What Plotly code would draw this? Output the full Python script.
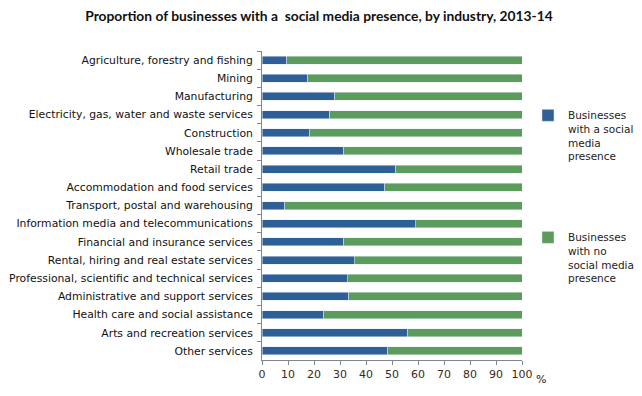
#Proportion of businesses with a social media presence, by industry
import plotly.graph_objects as go

#categories, top to bottom
industries = ["Agriculture, forestry and fishing", "Mining", "Manufacturing",
              "Electricity, gas, water and waste services", "Construction",
              "Wholesale trade", "Retail trade", "Accommodation and food services",
              "Transport, postal and warehousing", "Information media and telecommunications",
              "Financial and insurance services", "Rental, hiring and real estate services",
              "Professional, scientific and technical services",
              "Administrative and support services", "Health care and social assistance",
              "Arts and recreation services", "Other services"]
#% with a social media presence
with_presence = [9.5, 17.6, 28.0, 26.1, 18.4, 31.5, 51.5, 47.3, 8.7, 58.9,
                 31.5, 35.4, 32.7, 33.4, 23.7, 56.1, 48.4]
without_presence = [round(100 - v, 1) for v in with_presence]
x_ticks = [0, 10, 20, 30, 40, 50, 60, 70, 80, 90, 100]

blue = "#2F5F97"
green = "#5B9B5B"

trace1 = go.Bar(y=industries, x=with_presence, orientation="h", marker_color=blue,
                name="Businesses<br>with a social<br>media<br>presence", legend="legend")
trace2 = go.Bar(y=industries, x=without_presence, orientation="h", marker_color=green,
                name="Businesses<br>with no<br>social media<br>presence", legend="legend2")

fig = go.Figure(data=[trace1, trace2])
legend_style = dict(xanchor="left", yanchor="top", valign="top",
                    font=dict(family="DejaVu Sans", size=10.5, color="#222"),
                    bgcolor="rgba(0,0,0,0)", itemwidth=30, tracegroupgap=0)
#page body adds an 8px margin, so the figure is 8px smaller than the window
fig.update_layout(
    width=634, height=388, barmode="stack", bargap=0.56, showlegend=True,
    paper_bgcolor="white", plot_bgcolor="white",
    margin=dict(l=254, r=120, t=43, b=36, autoexpand=False),
    title=dict(text="<b>Proportion of businesses with a  social media presence, by industry, 2013-14</b>",
               x=0.4905, xanchor="center", y=0.980, yanchor="middle",
               font=dict(family="Lato", size=13.8, color="#111")),
    legend=dict(x=1.023, y=0.835, **legend_style),
    legend2=dict(x=1.023, y=0.440, **legend_style),
    font=dict(family="DejaVu Sans", size=11, color="#222"),
)
fig.update_xaxes(range=[0, 100], tickvals=x_ticks, showgrid=False, zeroline=False,
                 showline=True, linecolor="#7a8795", linewidth=1,
                 ticks="outside", ticklen=4, tickcolor="#7a8795",
                 tickfont=dict(family="DejaVu Sans", size=11, color="#3a2a10"))
fig.update_yaxes(categoryorder="array", categoryarray=industries, autorange="reversed",
                 showgrid=False, showline=True, linecolor="#7a8795", linewidth=1,
                 ticks="outside", ticklen=4, tickcolor="#7a8795", tickson="boundaries",
                 ticklabelstandoff=6,
                 tickfont=dict(family="DejaVu Sans", size=10.8, color="#111"))
fig.add_annotation(text="%", x=1.0, xref="paper", y=0, yref="paper",
                   xshift=26, yshift=-19, showarrow=False, yanchor="middle",
                   font=dict(family="DejaVu Sans", size=11, color="#222"))

fig.write_html("out.html")
